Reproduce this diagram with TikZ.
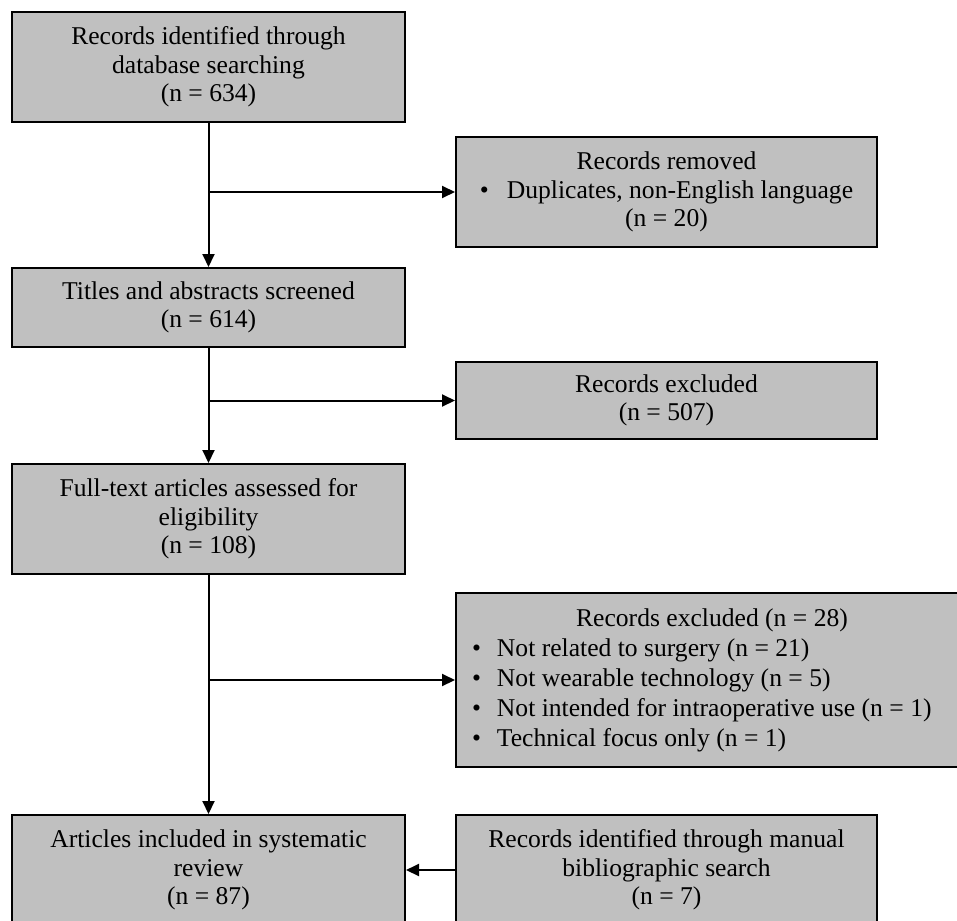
\documentclass[tikz,border=0pt]{standalone}
\usepackage{fontspec}
\setmainfont{Liberation Serif}
\usetikzlibrary{arrows.meta}
\definecolor{boxgray}{RGB}{192,192,192}

\begin{document}
\begin{tikzpicture}[x=0.5pt,y=-0.5pt,thick]
    % `record' is used for every grey box.
    % `listbox' is the wide box with the bullet list.
    % `flow' is used for all connectors.
    \tikzstyle{record} = [draw,fill=boxgray,line width=1pt,align=center,inner sep=2pt,
      minimum width=196.5pt,font=\fontsize{12.8}{14.25}\selectfont]
    \tikzstyle{sidebox} = [record,minimum width=210.5pt]
    \tikzstyle{listbox} = [record,align=flush left,text width=240pt,inner xsep=8pt,
      font=\fontsize{12.8}{15}\selectfont]
    \tikzstyle{flow} = [line width=1pt,-{Triangle[length=6.5pt,width=6pt]}]
    \path[use as bounding box,clip] (0,0) rectangle (957,920);
    %
    % Main column.
    \node[record,minimum height=55pt] (ident) at (208.5,67)
      {Records identified through\\database searching\\(n = 634)};
    \node[record,minimum height=39.5pt] (screened) at (208.5,307.5)
      {Titles and abstracts screened\\(n = 614)};
    \node[record,minimum height=55pt] (fulltext) at (208.5,519)
      {Full-text articles assessed for\\eligibility\\(n = 108)};
    \node[record,minimum height=55pt] (included) at (208.5,870)
      {Articles included in systematic\\review\\(n = 87)};
    %
    % Side column.
    \node[sidebox,minimum height=55pt] (removed) at (666.5,192)
      {Records removed\\\textbullet\hspace{9pt}Duplicates, non-English language\\(n = 20)};
    \node[sidebox,minimum height=38.5pt] (excl) at (666.5,400.5)
      {Records excluded\\(n = 507)};
    \node[listbox,minimum height=87pt] (exclft) at (712,680)
      {\makebox[\hsize]{Records excluded (n = 28)}\\
       \textbullet\hspace{8pt}Not related to surgery (n = 21)\\
       \textbullet\hspace{8pt}Not wearable technology (n = 5)\\
       \textbullet\hspace{8pt}Not intended for intraoperative use (n = 1)\\
       \textbullet\hspace{8pt}Technical focus only (n = 1)};
    \node[sidebox,minimum height=55pt] (manual) at (666.5,870)
      {Records identified through manual\\bibliographic search\\(n = 7)};
    %
    % Split points on the main line.
    \coordinate (split1) at (ident.south |- removed.west);
    \coordinate (split2) at (screened.south |- excl.west);
    \coordinate (split3) at (fulltext.south |- exclft.west);
    %
    % Draw lines.
    \draw[flow] (ident) -- (screened);
    \draw[flow] (screened) -- (fulltext);
    \draw[flow] (fulltext) -- (included);
    \draw[flow] (split1) -- (removed.west);
    \draw[flow] (split2) -- (excl.west);
    \draw[flow] (split3) -- (exclft.west);
    \draw[flow] (manual) -- (included);
\end{tikzpicture}
\end{document}
